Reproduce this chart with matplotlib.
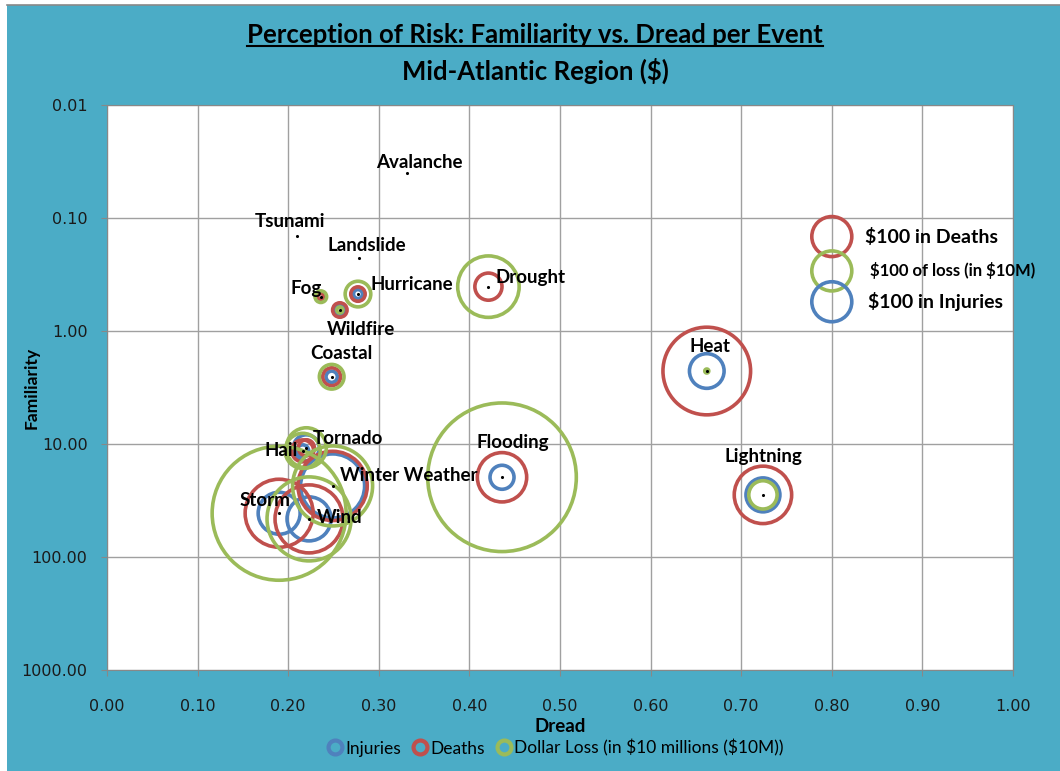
import numpy as np
import matplotlib
matplotlib.use("Agg")
import matplotlib.pyplot as plt
from matplotlib.lines import Line2D
from matplotlib.patches import Rectangle
from matplotlib.ticker import FixedLocator, FuncFormatter

# ---- data ----
events = ['Avalanche', 'Tsunami', 'Landslide', 'Fog', 'Hurricane', 'Wildfire',
          'Drought', 'Coastal', 'Heat', 'Lightning', 'Flooding', 'Tornado',
          'Hail', 'Winter Weather', 'Storm', 'Wind']
dread = [0.331, 0.210, 0.278, 0.236, 0.277, 0.257, 0.421, 0.248, 0.662, 0.724,
         0.436, 0.220, 0.216, 0.249, 0.190, 0.223]
familiarity = [0.040, 0.143, 0.224, 0.497, 0.471, 0.652, 0.405, 2.54, 2.26, 28.2,
               19.7, 10.8, 11.5, 23.5, 41.0, 46.0]
injuries = [0, 0, 0, 0, 5, 5.5, 0, 8, 75, 72, 36, 42, 9, 256, 110, 121]
deaths = [0, 0, 0, 2.3, 13, 13, 46, 20, 480, 206, 152, 16, 30, 300, 289, 289]
loss = [0, 0, 0, 8.4, 41, 2.3, 236, 38, 1, 50, 1380, 100, 77, 400, 1122, 441]

# label offsets (pixels, from dot to label centre)
label_dx = [12, -7, 8, -15, 54, 21, 42, 10, 3, 0, 11, 42, -22, 76, -14, 31]
label_dy = [11, 14, 12, 8, 10, -19, 9, 23, 25, 38, 35, 9, 0, 10, 13, 1]

# in-chart size key
key_x = [0.80, 0.80, 0.80]
key_y = [0.146, 0.294, 0.551]
key_val = [100, 100, 100]
key_text = [r'\$100 in Deaths', r'\$100 of loss (in \$10M)', r'\$100 in Injuries']

BLUE = '#4F81BD'
RED = '#C0504D'
GREEN = '#9BBB59'
BG = '#4BACC6'

W, H, DPI = 1060, 771, 100
fig = plt.figure(figsize=(W / DPI, H / DPI), dpi=DPI)
fig.patch.set_facecolor('white')
fig.patches.append(Rectangle((7 / W, 0), 1 - 7 / W, 1 - 5 / H, transform=fig.transFigure,
                             facecolor=BG, edgecolor='none', zorder=-10))
fig.lines.append(Line2D([7 / W, 1], [1 - 5 / H, 1 - 5 / H], transform=fig.transFigure,
                        color='#888888', lw=1.2, zorder=-5))

ax = fig.add_axes([107 / W, 1 - 670 / H, 906 / W, 565 / H])
ax.set_facecolor('white')

# bubble area proportional to value; 100 -> radius 20 px
def bubble_s(v):
    r_px = 20 * np.sqrt(np.asarray(v, dtype=float) / 100.0)
    return (2 * r_px * 72.0 / DPI) ** 2

x = np.array(dread)
y = np.array(familiarity)
for vals, col in [(injuries, BLUE), (deaths, RED), (loss, GREEN)]:
    v = np.array(vals, dtype=float)
    m = v > 0
    ax.scatter(x[m], y[m], s=bubble_s(v[m]), facecolors='none', edgecolors=col,
               linewidths=2.6, zorder=3, clip_on=False)

ax.scatter(x, y, s=5, color='black', zorder=5, linewidths=0)

for xi, yi, name, dx, dy in zip(dread, familiarity, events, label_dx, label_dy):
    ax.annotate(name, (xi, yi), xytext=(dx, dy), textcoords='offset pixels',
                ha='center', va='center', fontsize=13.5, fontweight='bold',
                family='Lato', color='black', zorder=6)

# size key inside the chart
for kx, ky, kv, col in zip(key_x, key_y, key_val, [RED, GREEN, BLUE]):
    ax.scatter([kx], [ky], s=bubble_s(kv), facecolors='none', edgecolors=col,
               linewidths=2.6, zorder=3)
for ky, txt, fs, dx in zip(key_y, key_text, [14, 12, 14], [33, 38, 36]):
    ax.annotate(txt, (key_x[0], ky), xytext=(dx, 0), textcoords='offset pixels',
                ha='left', va='center', fontsize=fs, fontweight='bold', family='Lato')

ax.set_xlim(0, 1)
ax.set_yscale('log')
ax.set_ylim(1000, 0.01)
ax.xaxis.set_major_locator(FixedLocator(np.arange(0, 1.001, 0.1)))
ax.yaxis.set_major_locator(FixedLocator([0.01, 0.1, 1, 10, 100, 1000]))
ax.yaxis.set_minor_locator(FixedLocator([]))
ax.xaxis.set_major_formatter(FuncFormatter(lambda v, p: f'{v:.2f}'))
ax.yaxis.set_major_formatter(FuncFormatter(lambda v, p: f'{v:.2f}'))
ax.grid(True, color='#A0A0A0', lw=1.0, zorder=0)
ax.set_axisbelow(True)
for sp in ax.spines.values():
    sp.set_color('#888888')
ax.tick_params(axis='both', colors='#888888', labelcolor='#1a1a1a', length=4,
               labelsize=11.5)
ax.tick_params(axis='x', pad=17)
ax.tick_params(axis='y', pad=10)
for lab in ax.get_xticklabels() + ax.get_yticklabels():
    lab.set_family('DejaVu Sans')

ax.set_xlabel('Dread', fontsize=13.5, fontweight='bold', family='Lato', labelpad=3)
ax.set_ylabel('Familiarity', fontsize=12.5, fontweight='bold', family='Lato')
ax.yaxis.set_label_coords(-0.074, 0.5)

# titles
t1 = fig.text(535 / W, 1 - 35 / H, 'Perception of Risk: Familiarity vs. Dread per Event',
              ha='center', va='center', fontsize=18.5, fontweight='bold', family='Lato')
fig.text(535 / W, 1 - 71 / H, r'Mid-Atlantic Region (\$)', ha='center', va='center',
         fontsize=18.5, fontweight='bold', family='Lato')

# bottom legend
handles = [Line2D([], [], ls='none', marker='o', markersize=10, markerfacecolor='none',
                  markeredgewidth=3, markeredgecolor=c) for c in (BLUE, RED, GREEN)]
fig.legend(handles, ['Injuries', 'Deaths', r'Dollar Loss (in \$10 millions (\$10M))'],
           loc='center', bbox_to_anchor=(555 / W, 1 - 748 / H), ncol=3, frameon=False,
           handletextpad=0.1, columnspacing=0.6, handlelength=1.0,
           prop={'family': 'Lato', 'size': 12.5})

# underline the main title
fig.canvas.draw()
bb = t1.get_window_extent(fig.canvas.get_renderer())
uy = (bb.y0 + 1) / H
fig.lines.append(Line2D([bb.x0 / W, bb.x1 / W], [uy, uy], transform=fig.transFigure,
                        color='black', lw=1.5))

fig.savefig('out.png', dpi=DPI)
